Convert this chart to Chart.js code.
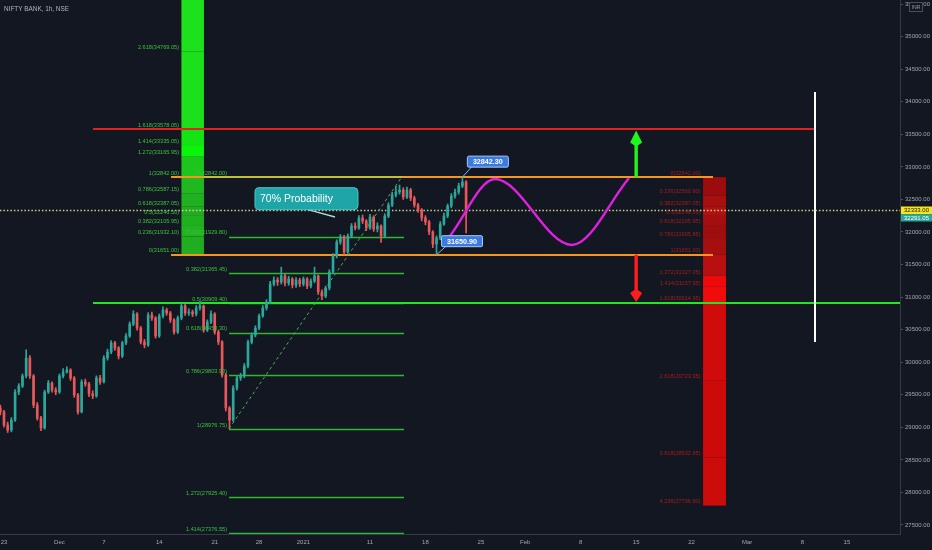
<!DOCTYPE html>
<html>
<head>
<meta charset="utf-8">
<script src="https://cdn.jsdelivr.net/npm/chart.js@4.4.1/dist/chart.umd.min.js"></script>
<style>
  html, body { margin: 0; padding: 0; background: #131722; overflow: hidden; }
  canvas { display: block; }
</style>
</head>
<body>
<canvas id="chart" width="932" height="550" style="width:932px;height:550px"></canvas>
<script>
// NIFTY BANK 1h – range breakout idea

// time axis: trading days counted from Mon 23 Nov 2020
const dayTicks = [0, 5, 9, 14, 19, 23, 27, 33, 38, 43, 47, 52, 57, 62, 67, 72, 76];
const dayLabels = ['23', 'Dec', '7', '14', '21', '28', '2021', '11', '18', '25', 'Feb', '8', '15', '22', 'Mar', '8', '15'];
const priceTicks = [27500, 28000, 28500, 29000, 29500, 30000, 30500, 31000, 31500, 32000, 32500, 33000, 33500, 34000, 34500, 35000, 35500];

// candles [open, high, low, close], 3 per trading day
const firstCandleDay = -1 / 3;
const candlesPerDay = 3;
const candles = [
  [29300, 29340, 29190, 29235], [29235, 29260, 29000, 29035], [29035, 29080, 28920, 28958],
  [28958, 29150, 28930, 29112], [29112, 29580, 29090, 29542], [29542, 29670, 29500, 29634],
  [29634, 29820, 29610, 29788], [29788, 30190, 29760, 30064], [30064, 30100, 29750, 29788],
  [29788, 29810, 29300, 29342], [29342, 29380, 29110, 29143], [29143, 29170, 28950, 28989],
  [28989, 29570, 28970, 29542], [29542, 29720, 29520, 29680], [29680, 29700, 29540, 29573],
  [29573, 29610, 29500, 29542], [29542, 29820, 29520, 29788], [29788, 29900, 29760, 29849],
  [29849, 29930, 29830, 29880], [29880, 29900, 29720, 29757], [29757, 29780, 29460, 29496],
  [29496, 29520, 29200, 29235], [29235, 29730, 29220, 29696], [29696, 29740, 29630, 29665],
  [29665, 29690, 29470, 29511], [29511, 29560, 29440, 29480], [29480, 29790, 29460, 29757],
  [29757, 29800, 29660, 29696], [29696, 30100, 29680, 30064], [30064, 30200, 30030, 30156],
  [30156, 30330, 30130, 30295], [30295, 30320, 30180, 30218], [30218, 30240, 30050, 30095],
  [30095, 30320, 30070, 30295], [30295, 30440, 30270, 30402], [30402, 30620, 30380, 30586],
  [30586, 30790, 30560, 30740], [30740, 30760, 30490, 30525], [30525, 30550, 30280, 30310],
  [30310, 30350, 30220, 30264], [30264, 30760, 30240, 30725], [30725, 30770, 30640, 30679],
  [30679, 30700, 30370, 30402], [30402, 30740, 30380, 30709], [30709, 30850, 30680, 30801],
  [30801, 30830, 30720, 30755], [30755, 30780, 30610, 30648], [30648, 30670, 30430, 30463],
  [30463, 30710, 30440, 30679], [30679, 30900, 30650, 30863], [30863, 30890, 30720, 30755],
  [30755, 30820, 30720, 30771], [30771, 30800, 30700, 30740], [30740, 30870, 30710, 30832],
  [30832, 30930, 30800, 30863], [30863, 30880, 30460, 30494], [30494, 30650, 30470, 30617],
  [30617, 30790, 30590, 30740], [30740, 30760, 30430, 30463], [30463, 30490, 30270, 30310],
  [30310, 30330, 29770, 29803], [29803, 29830, 29250, 29296], [29296, 29320, 28977, 29112],
  [29112, 29640, 29090, 29603], [29603, 29800, 29570, 29757], [29757, 29830, 29720, 29788],
  [29788, 29980, 29760, 29941], [29941, 30340, 29910, 30310], [30310, 30450, 30280, 30417],
  [30417, 30560, 30390, 30525], [30525, 30740, 30500, 30709], [30709, 30870, 30690, 30832],
  [30832, 30960, 30800, 30924], [30924, 31240, 30900, 31201], [31201, 31310, 31170, 31262],
  [31262, 31300, 31180, 31231], [31231, 31460, 31200, 31324], [31324, 31350, 31170, 31216],
  [31216, 31320, 31180, 31278], [31278, 31300, 31140, 31186], [31186, 31300, 31150, 31262],
  [31262, 31290, 31160, 31201], [31201, 31310, 31170, 31278], [31278, 31300, 31130, 31170],
  [31170, 31280, 31140, 31247], [31247, 31460, 31220, 31324], [31324, 31340, 31040, 31078],
  [31078, 31110, 30960, 31016], [31016, 31170, 30990, 31139], [31139, 31420, 31110, 31385],
  [31385, 31670, 31360, 31631], [31631, 31880, 31600, 31846], [31846, 31960, 31810, 31923],
  [31923, 31950, 31650, 31692], [31692, 31970, 31670, 31938], [31938, 32130, 31910, 32092],
  [32092, 32140, 32030, 32060], [32060, 32250, 32040, 32215], [32215, 32260, 32130, 32168],
  [32168, 32190, 32020, 32061], [32061, 32270, 32040, 32230], [32230, 32250, 32010, 32046],
  [32046, 32140, 32000, 32092], [32092, 32110, 31840, 31938], [31938, 32280, 31920, 32245],
  [32245, 32450, 32220, 32414], [32414, 32610, 32390, 32568], [32568, 32700, 32540, 32614],
  [32614, 32720, 32580, 32645], [32645, 32680, 32500, 32537], [32537, 32690, 32510, 32645],
  [32645, 32670, 32480, 32522], [32522, 32550, 32380, 32414], [32414, 32440, 32300, 32337],
  [32337, 32360, 32170, 32215], [32215, 32250, 32110, 32153], [32153, 32180, 31960, 31999],
  [31999, 32020, 31760, 31815], [31815, 31940, 31651, 31907], [31907, 32160, 31880, 32122],
  [32122, 32290, 32100, 32245], [32245, 32430, 32220, 32399], [32399, 32590, 32370, 32552],
  [32552, 32660, 32520, 32614], [32614, 32750, 32580, 32706], [32706, 32842, 32680, 32767],
  [32767, 32790, 31984, 32291]
];

// fib extension up (green column)
const greenRatios = [0, 0.236, 0.382, 0.5, 0.618, 0.786, 1, 1.272, 1.414, 1.618, 2.618];
const greenPrices = [31651.00, 31932.10, 32105.95, 32246.50, 32387.05, 32587.15, 32842.00, 33165.95, 33335.05, 33578.05, 34769.05];
const greenTopPrice = 36696.00;

// fib retracement of the Dec swing
const swingRatios = [0, 0.236, 0.382, 0.5, 0.618, 0.786, 1, 1.272, 1.414];
const swingPrices = [32842.00, 31929.80, 31365.45, 30909.40, 30453.30, 29803.90, 28976.75, 27925.40, 27376.55];

// fib extension down (red column)
const redRatios = [0, 0.236, 0.382, 0.5, 0.618, 0.786, 1, 1.272, 1.414, 1.618, 2.618, 3.618, 4.236];
const redPrices = [32842.00, 32560.90, 32387.05, 32246.50, 32105.95, 31905.85, 31651.00, 31327.05, 31157.95, 30914.95, 29723.95, 28532.95, 27796.90];

// horizontal levels
const targetLevel = 33578.05;
const rangeHigh = 32842.00;
const rangeLow = 31651.00;
const supportLevel = 30909.40;
const alertPrice = 32333.00;
const lastPrice = 32291.05;
const swingHigh = 32842.30;
const swingLow = 31650.90;

// projected path (magenta) and swing trend line
const pathDays = [40.2, 44.27, 51.2, 56.36];
const pathPrices = [31938, 32813, 31800, 32829];
const trendDays = [20.29, 35.86];
const trendPrices = [28976.75, 32842.00];

// where each drawing sits on the time axis
const spots = {
  greenCol: [16.0, 18.03],
  redCol: [63.03, 65.1],
  targetLine: [8.03, 73.13],
  rangeLines: [15.06, 63.93],
  rangeTopFib: [18.03, 35.9],
  supportLine: [8.03, 81],
  swingFib: [20.29, 36.07],
  vline: { day: 73.13, from: 30310, to: 34150 },
  arrowDay: 57.0,
  arrowTipUp: 33560,
  arrowTipDown: 30925,
  callout: { day: 22.63, price: 32680, tipDay: 29.85, tipPrice: 32230 },
  highDay: 41.33,
  lowDay: 39.0
};

const greenBands = ['#20ad20', '#22b322', '#1fb01f', '#22ab22', '#1fb11f', '#20b820', '#1dc51d', '#0af50a', '#14e314', '#1de01d', '#1ee11e'];
const redBands = ['#9d0c0c', '#a80f0f', '#ad1111', '#a40e0e', '#9f0d0d', '#a50f0f', '#b81010', '#ee0a0a', '#f20b0b', '#cf0b0b', '#cc0a0a', '#cc0b0b'];

const UP = '#2aa89b';
const DOWN = '#e8575a';
const FONT = "'Liberation Sans', Arial, sans-serif";

const candleDay = i => firstCandleDay + i / candlesPerDay;
const candleColors = candles.map(c => (c[3] >= c[0] ? UP : DOWN));

function hline(ctx, x, y, price, d0, d1, color, width, dash) {
  const py = Math.round(y.getPixelForValue(price)) + (width % 2 ? 0.5 : 0);
  ctx.save();
  ctx.strokeStyle = color;
  ctx.lineWidth = width;
  ctx.setLineDash(dash || []);
  ctx.beginPath();
  ctx.moveTo(x.getPixelForValue(d0), py);
  ctx.lineTo(x.getPixelForValue(d1), py);
  ctx.stroke();
  ctx.restore();
}

function bands(ctx, x, y, prices, colors, span) {
  const x0 = x.getPixelForValue(span[0]);
  const x1 = x.getPixelForValue(span[1]);
  for (let i = 0; i < prices.length - 1; i++) {
    const ya = y.getPixelForValue(Math.max(prices[i], prices[i + 1]));
    const yb = y.getPixelForValue(Math.min(prices[i], prices[i + 1]));
    ctx.fillStyle = colors[i];
    ctx.fillRect(x0, ya, x1 - x0, yb - ya);
  }
}

function fibLabels(ctx, x, y, ratios, prices, rightDay, color) {
  ctx.save();
  ctx.font = '5.6px ' + FONT;
  ctx.fillStyle = color;
  ctx.textAlign = 'right';
  ctx.textBaseline = 'bottom';
  const rx = x.getPixelForValue(rightDay);
  ratios.forEach((r, i) => {
    ctx.fillText(r + '(' + prices[i].toFixed(2) + ')', rx, y.getPixelForValue(prices[i]) - 1);
  });
  ctx.restore();
}

function arrow(ctx, cx, yBase, yTip, color, headH) {
  const dir = yTip < yBase ? -1 : 1;
  const neck = yTip - dir * headH;
  ctx.save();
  ctx.fillStyle = color;
  ctx.fillRect(cx - 1.7, Math.min(yBase, neck), 3.4, Math.abs(neck - yBase));
  ctx.beginPath();
  ctx.moveTo(cx, yTip);
  ctx.lineTo(cx + 6, neck + dir * 1);
  ctx.lineTo(cx + 1.7, neck - dir * 2);
  ctx.lineTo(cx - 1.7, neck - dir * 2);
  ctx.lineTo(cx - 6, neck + dir * 1);
  ctx.closePath();
  ctx.fill();
  ctx.restore();
}

function roundRect(ctx, x0, y0, w, h, r) {
  ctx.beginPath();
  ctx.moveTo(x0 + r, y0);
  ctx.arcTo(x0 + w, y0, x0 + w, y0 + h, r);
  ctx.arcTo(x0 + w, y0 + h, x0, y0 + h, r);
  ctx.arcTo(x0, y0 + h, x0, y0, r);
  ctx.arcTo(x0, y0, x0 + w, y0, r);
  ctx.closePath();
}

function priceTag(ctx, ax, ay, dx, dy, text) {
  const w = 41, h = 11;
  const bx = ax + dx, by = ay + dy - h;
  ctx.save();
  ctx.strokeStyle = '#7fb0ff';
  ctx.lineWidth = 1;
  ctx.beginPath();
  ctx.moveTo(ax, ay);
  ctx.lineTo(bx + 4, by + h);
  ctx.stroke();
  roundRect(ctx, bx, by, w, h, 1.5);
  ctx.fillStyle = '#3a7bdc';
  ctx.fill();
  ctx.strokeStyle = '#a9c8ff';
  ctx.stroke();
  ctx.fillStyle = '#ffffff';
  ctx.font = 'bold 7.2px ' + FONT;
  ctx.textAlign = 'center';
  ctx.textBaseline = 'middle';
  ctx.fillText(text, bx + w / 2, by + h / 2 + 0.5);
  ctx.restore();
}

const drawings = {
  id: 'drawings',
  beforeDraw(chart) {
    const { ctx, width, height } = chart;
    ctx.save();
    ctx.fillStyle = '#131722';
    ctx.fillRect(0, 0, width, height);
    ctx.restore();
  },
  beforeDatasetsDraw(chart) {
    const { ctx, chartArea: a, scales: { x, y } } = chart;
    ctx.save();
    ctx.beginPath();
    ctx.rect(a.left, a.top, a.right - a.left, a.bottom - a.top);
    ctx.clip();

    bands(ctx, x, y, greenPrices.concat([greenTopPrice]), greenBands, spots.greenCol);
    bands(ctx, x, y, redPrices, redBands, spots.redCol);

    // swing retracement levels
    swingPrices.forEach((p, i) => {
      if (i === 0) return;
      hline(ctx, x, y, p, spots.swingFib[0], spots.swingFib[1], '#2db82d', 1.5);
    });

    hline(ctx, x, y, targetLevel, spots.targetLine[0], spots.targetLine[1], '#e3211f', 2);
    hline(ctx, x, y, rangeHigh, spots.rangeLines[0], spots.rangeLines[1], '#f5961f', 2);
    hline(ctx, x, y, rangeLow, spots.rangeLines[0], spots.rangeLines[1], '#f5961f', 2);
    hline(ctx, x, y, rangeHigh, spots.rangeTopFib[0], spots.rangeTopFib[1], '#c3bf35', 2);
    hline(ctx, x, y, supportLevel, spots.supportLine[0], spots.supportLine[1], '#22e622', 2);

    // white vertical marker
    const vx = Math.round(x.getPixelForValue(spots.vline.day));
    ctx.strokeStyle = '#ffffff';
    ctx.lineWidth = 2;
    ctx.beginPath();
    ctx.moveTo(vx, y.getPixelForValue(spots.vline.to));
    ctx.lineTo(vx, y.getPixelForValue(spots.vline.from));
    ctx.stroke();

    hline(ctx, x, y, alertPrice, -1, 82, 'rgba(230,228,150,0.9)', 1.4, [1.5, 2]);
    ctx.restore();
  },
  afterDatasetsDraw(chart) {
    const { ctx, chartArea: a, scales: { x, y } } = chart;
    ctx.save();
    ctx.beginPath();
    ctx.rect(a.left, a.top, a.right - a.left, a.bottom - a.top);
    ctx.clip();

    fibLabels(ctx, x, y, greenRatios, greenPrices, spots.greenCol[0] - 0.22, '#3cc23c');
    fibLabels(ctx, x, y, swingRatios, swingPrices, spots.swingFib[0] - 0.18, '#3cc23c');
    fibLabels(ctx, x, y, redRatios, redPrices, spots.redCol[0] - 0.22, '#a51d1d');

    const ax = x.getPixelForValue(spots.arrowDay);
    arrow(ctx, ax, y.getPixelForValue(rangeHigh), y.getPixelForValue(spots.arrowTipUp), '#1ff51f', 13);
    arrow(ctx, ax, y.getPixelForValue(rangeLow), y.getPixelForValue(spots.arrowTipDown), '#ff1c1c', 10);

    // callout
    const c = spots.callout;
    const cx0 = x.getPixelForValue(c.day), cy0 = y.getPixelForValue(c.price);
    ctx.strokeStyle = '#a9d9dc';
    ctx.lineWidth = 1.3;
    ctx.beginPath();
    ctx.moveTo(cx0 + 53, cy0 + 22);
    ctx.lineTo(x.getPixelForValue(c.tipDay), y.getPixelForValue(c.tipPrice));
    ctx.stroke();
    roundRect(ctx, cx0, cy0, 103, 22, 4);
    ctx.fillStyle = '#1ea5a8';
    ctx.fill();
    ctx.strokeStyle = '#4fc3c5';
    ctx.lineWidth = 1;
    ctx.stroke();
    ctx.fillStyle = '#ffffff';
    ctx.font = '10.5px ' + FONT;
    ctx.textAlign = 'left';
    ctx.textBaseline = 'middle';
    ctx.fillText('70% Probability', cx0 + 5, cy0 + 11.5);

    priceTag(ctx, x.getPixelForValue(spots.highDay), y.getPixelForValue(swingHigh), 5, -10, swingHigh.toFixed(2));
    priceTag(ctx, x.getPixelForValue(spots.lowDay), y.getPixelForValue(swingLow), 5, -8, swingLow.toFixed(2));
    ctx.restore();
  },
  afterDraw(chart) {
    const { ctx, chartArea: a, scales: { y } } = chart;
    ctx.save();
    ctx.font = '6.4px ' + FONT;
    ctx.fillStyle = '#b2b5be';
    ctx.textAlign = 'left';
    ctx.textBaseline = 'middle';
    ctx.fillText('NIFTY BANK, 1h, NSE', 4, 9);

    // INR badge
    ctx.fillStyle = '#131722';
    ctx.fillRect(909, 2.5, 14, 9);
    ctx.strokeStyle = '#4a4e59';
    ctx.lineWidth = 1;
    ctx.strokeRect(909.5, 2.5, 13, 9);
    ctx.fillStyle = '#9598a1';
    ctx.font = '5.2px ' + FONT;
    ctx.textAlign = 'center';
    ctx.fillText('INR', 916, 7.3);

    // price tags on the axis
    const ya = y.getPixelForValue(alertPrice);
    ctx.fillStyle = '#f4e41c';
    ctx.fillRect(a.right + 1, ya - 3.8, 31, 7.6);
    ctx.fillStyle = '#131722';
    ctx.font = '6px ' + FONT;
    ctx.textAlign = 'left';
    ctx.fillText(alertPrice.toFixed(2), a.right + 4, ya + 0.3);
    ctx.fillStyle = UP;
    ctx.fillRect(a.right + 1, ya + 3.8, 31, 7.4);
    ctx.fillStyle = '#ffffff';
    ctx.fillText(lastPrice.toFixed(2), a.right + 4, ya + 7.6);
    ctx.restore();
  }
};

Chart.defaults.font.family = FONT;
Chart.defaults.color = '#a3a6af';

new Chart(document.getElementById('chart'), {
  type: 'bar',
  data: {
    datasets: [
      {
        type: 'line',
        data: pathDays.map((d, i) => ({ x: d, y: pathPrices[i] })),
        borderColor: '#e020e0',
        borderWidth: 2.4,
        pointRadius: 0,
        cubicInterpolationMode: 'monotone',
        fill: false
      },
      {
        type: 'line',
        data: trendDays.map((d, i) => ({ x: d, y: trendPrices[i] })),
        borderColor: '#4caf50',
        borderWidth: 1,
        borderDash: [3, 3],
        pointRadius: 0,
        fill: false
      },
      {
        // candle bodies
        data: candles.map((c, i) => ({ x: candleDay(i), y: [c[0], c[3]] })),
        backgroundColor: candleColors,
        barThickness: 2,
        minBarLength: 1,
        grouped: false,
        borderWidth: 0
      },
      {
        // wicks
        data: candles.map((c, i) => ({ x: candleDay(i), y: [c[2], c[1]] })),
        backgroundColor: candleColors,
        barThickness: 1,
        grouped: false,
        borderWidth: 0
      }
    ]
  },
  options: {
    responsive: false,
    animation: false,
    layout: { padding: 0 },
    plugins: { legend: { display: false }, tooltip: { enabled: false } },
    scales: {
      x: {
        type: 'linear',
        min: -0.36,
        max: 80.79,
        offset: false,
        grid: { display: false, drawTicks: false, offset: false },
        border: { display: true, color: '#363a45', width: 1 },
        afterBuildTicks: scale => { scale.ticks = dayTicks.map(v => ({ value: v })); },
        afterFit: scale => {
          scale.height = 16;
          scale.paddingLeft = 0;
          scale.paddingRight = 0;
        },
        ticks: {
          autoSkip: false,
          maxRotation: 0,
          minRotation: 0,
          padding: 5,
          font: { size: 6 },
          color: '#a3a6af',
          callback: (v, i) => dayLabels[i]
        }
      },
      y: {
        position: 'right',
        min: 27361,
        max: 35563,
        grid: { display: true, drawOnChartArea: false, drawTicks: true, tickLength: 3, color: '#50535e' },
        border: { display: true, color: '#363a45', width: 1 },
        afterBuildTicks: scale => { scale.ticks = priceTicks.map(v => ({ value: v })); },
        afterFit: scale => {
          scale.width = 32;
          scale.paddingTop = 0;
          scale.paddingBottom = 0;
        },
        ticks: {
          autoSkip: false,
          padding: 2,
          font: { size: 6 },
          color: '#a3a6af',
          callback: v => Number(v).toFixed(2)
        }
      }
    }
  },
  plugins: [drawings]
});
</script>
</body>
</html>
